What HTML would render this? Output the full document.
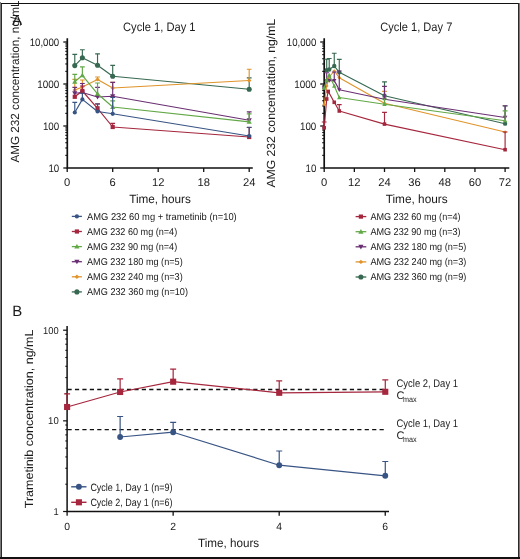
<!DOCTYPE html>
<html><head><meta charset="utf-8"><style>
html,body{margin:0;padding:0;background:#fff;width:520px;height:559px;overflow:hidden}
svg{display:block;will-change:transform;text-rendering:geometricPrecision}
</style></head><body>
<svg width="520" height="559" viewBox="0 0 520 559" font-family="Liberation Sans, sans-serif" fill="#1a1a1a">
<rect width="520" height="559" fill="#fff"/>
<text x="17.2" y="24.5" font-size="14.5" text-anchor="middle" >A</text>
<text transform="translate(19.3,162.6) rotate(-90)" font-size="11.8" textLength="162" lengthAdjust="spacingAndGlyphs">AMG 232 concentration, ng/mL</text>
<text x="159.3" y="31.2" font-size="12.2" text-anchor="middle" textLength="72.5" lengthAdjust="spacingAndGlyphs" >Cycle 1, Day 1</text>
<path d="M67.3,38.2 V168.0 H252.8" fill="none" stroke="#111" stroke-width="1.7"/>
<path d="M63.30,42.00 H67.30" stroke="#111" stroke-width="1.28"/>
<path d="M63.30,84.00 H67.30" stroke="#111" stroke-width="1.28"/>
<path d="M63.30,126.00 H67.30" stroke="#111" stroke-width="1.28"/>
<path d="M63.30,168.00 H67.30" stroke="#111" stroke-width="1.28"/>
<path d="M65.30,71.36 H67.30" stroke="#111" stroke-width="1.12"/>
<path d="M65.30,63.96 H67.30" stroke="#111" stroke-width="1.12"/>
<path d="M65.30,58.71 H67.30" stroke="#111" stroke-width="1.12"/>
<path d="M65.30,54.64 H67.30" stroke="#111" stroke-width="1.12"/>
<path d="M65.30,51.32 H67.30" stroke="#111" stroke-width="1.12"/>
<path d="M65.30,48.51 H67.30" stroke="#111" stroke-width="1.12"/>
<path d="M65.30,46.07 H67.30" stroke="#111" stroke-width="1.12"/>
<path d="M65.30,43.92 H67.30" stroke="#111" stroke-width="1.12"/>
<path d="M65.30,113.36 H67.30" stroke="#111" stroke-width="1.12"/>
<path d="M65.30,105.96 H67.30" stroke="#111" stroke-width="1.12"/>
<path d="M65.30,100.71 H67.30" stroke="#111" stroke-width="1.12"/>
<path d="M65.30,96.64 H67.30" stroke="#111" stroke-width="1.12"/>
<path d="M65.30,93.32 H67.30" stroke="#111" stroke-width="1.12"/>
<path d="M65.30,90.51 H67.30" stroke="#111" stroke-width="1.12"/>
<path d="M65.30,88.07 H67.30" stroke="#111" stroke-width="1.12"/>
<path d="M65.30,85.92 H67.30" stroke="#111" stroke-width="1.12"/>
<path d="M65.30,155.36 H67.30" stroke="#111" stroke-width="1.12"/>
<path d="M65.30,147.96 H67.30" stroke="#111" stroke-width="1.12"/>
<path d="M65.30,142.71 H67.30" stroke="#111" stroke-width="1.12"/>
<path d="M65.30,138.64 H67.30" stroke="#111" stroke-width="1.12"/>
<path d="M65.30,135.32 H67.30" stroke="#111" stroke-width="1.12"/>
<path d="M65.30,132.51 H67.30" stroke="#111" stroke-width="1.12"/>
<path d="M65.30,130.07 H67.30" stroke="#111" stroke-width="1.12"/>
<path d="M65.30,127.92 H67.30" stroke="#111" stroke-width="1.12"/>
<text x="59.2" y="45.7" font-size="10.8" text-anchor="end" textLength="29.5" lengthAdjust="spacingAndGlyphs" >10,000</text>
<text x="59.2" y="87.7" font-size="10.8" text-anchor="end" textLength="22" lengthAdjust="spacingAndGlyphs" >1000</text>
<text x="59.2" y="129.7" font-size="10.8" text-anchor="end" textLength="16.3" lengthAdjust="spacingAndGlyphs" >100</text>
<text x="59.2" y="171.7" font-size="10.8" text-anchor="end" textLength="10.8" lengthAdjust="spacingAndGlyphs" >10</text>
<path d="M67.20,168.0 V172.0" stroke="#111" stroke-width="1.3"/>
<text x="67.2" y="185.9" font-size="11.2" text-anchor="middle" >0</text>
<path d="M112.70,168.0 V172.0" stroke="#111" stroke-width="1.3"/>
<text x="112.7" y="185.9" font-size="11.2" text-anchor="middle" >6</text>
<path d="M158.20,168.0 V172.0" stroke="#111" stroke-width="1.3"/>
<text x="158.2" y="185.9" font-size="11.2" text-anchor="middle" >12</text>
<path d="M203.70,168.0 V172.0" stroke="#111" stroke-width="1.3"/>
<text x="203.7" y="185.9" font-size="11.2" text-anchor="middle" >18</text>
<path d="M249.20,168.0 V172.0" stroke="#111" stroke-width="1.3"/>
<text x="249.2" y="185.9" font-size="11.2" text-anchor="middle" >24</text>
<text x="160" y="203.1" font-size="12" text-anchor="middle" textLength="61.7" lengthAdjust="spacingAndGlyphs" >Time, hours</text>
<path d="M74.78,65.60 L82.37,57.80 L97.53,65.20 L112.70,76.30 L249.19,89.30" fill="none" stroke="#376851" stroke-width="1.15" stroke-linejoin="round"/>
<path d="M74.78,65.60 V54.40 M72.38,54.40 H77.18" stroke="#376851" stroke-width="1.15" fill="none"/>
<path d="M82.37,57.80 V49.70 M79.97,49.70 H84.77" stroke="#376851" stroke-width="1.15" fill="none"/>
<path d="M97.53,65.20 V53.90 M95.13,53.90 H99.93" stroke="#376851" stroke-width="1.15" fill="none"/>
<path d="M112.70,76.30 V65.40 M110.30,65.40 H115.10" stroke="#376851" stroke-width="1.15" fill="none"/>
<path d="M249.19,89.30 V77.90 M246.79,77.90 H251.59" stroke="#376851" stroke-width="1.15" fill="none"/>
<circle cx="74.78" cy="65.60" r="2.55" fill="#376851"/>
<circle cx="82.37" cy="57.80" r="2.55" fill="#376851"/>
<circle cx="97.53" cy="65.20" r="2.55" fill="#376851"/>
<circle cx="112.70" cy="76.30" r="2.55" fill="#376851"/>
<circle cx="249.19" cy="89.30" r="2.55" fill="#376851"/>
<path d="M74.78,90.00 L82.37,87.10 L97.53,79.40 L112.70,88.00 L249.19,80.50" fill="none" stroke="#e0942a" stroke-width="1.15" stroke-linejoin="round"/>
<path d="M74.78,90.00 V79.40 M72.38,79.40 H77.18" stroke="#e0942a" stroke-width="1.15" fill="none"/>
<path d="M82.37,87.10 V80.00 M79.97,80.00 H84.77" stroke="#e0942a" stroke-width="1.15" fill="none"/>
<path d="M97.53,79.40 V77.00 M95.13,77.00 H99.93" stroke="#e0942a" stroke-width="1.15" fill="none"/>
<path d="M112.70,88.00 V82.30 M110.30,82.30 H115.10" stroke="#e0942a" stroke-width="1.15" fill="none"/>
<path d="M249.19,80.50 V69.20 M246.79,69.20 H251.59" stroke="#e0942a" stroke-width="1.15" fill="none"/>
<path d="M74.78,87.80 L76.98,90.00 L74.78,92.20 L72.58,90.00Z" fill="#e0942a"/>
<path d="M82.37,84.90 L84.57,87.10 L82.37,89.30 L80.17,87.10Z" fill="#e0942a"/>
<path d="M97.53,77.20 L99.73,79.40 L97.53,81.60 L95.33,79.40Z" fill="#e0942a"/>
<path d="M112.70,85.80 L114.90,88.00 L112.70,90.20 L110.50,88.00Z" fill="#e0942a"/>
<path d="M249.19,78.30 L251.39,80.50 L249.19,82.70 L246.99,80.50Z" fill="#e0942a"/>
<path d="M74.78,93.30 L82.37,92.50 L97.53,97.00 L112.70,96.30 L249.19,120.30" fill="none" stroke="#6a2f72" stroke-width="1.15" stroke-linejoin="round"/>
<path d="M74.78,93.30 V87.30 M72.38,87.30 H77.18" stroke="#6a2f72" stroke-width="1.15" fill="none"/>
<path d="M82.37,92.50 V83.50 M79.97,83.50 H84.77" stroke="#6a2f72" stroke-width="1.15" fill="none"/>
<path d="M97.53,97.00 V87.30 M95.13,87.30 H99.93" stroke="#6a2f72" stroke-width="1.15" fill="none"/>
<path d="M112.70,96.30 V82.30 M110.30,82.30 H115.10" stroke="#6a2f72" stroke-width="1.15" fill="none"/>
<path d="M249.19,120.30 V111.80 M246.79,111.80 H251.59" stroke="#6a2f72" stroke-width="1.15" fill="none"/>
<path d="M74.78,95.90 L77.38,91.35 L72.18,91.35Z" fill="#6a2f72"/>
<path d="M82.37,95.10 L84.97,90.55 L79.77,90.55Z" fill="#6a2f72"/>
<path d="M97.53,99.60 L100.13,95.05 L94.93,95.05Z" fill="#6a2f72"/>
<path d="M112.70,98.90 L115.30,94.35 L110.10,94.35Z" fill="#6a2f72"/>
<path d="M249.19,122.90 L251.79,118.35 L246.59,118.35Z" fill="#6a2f72"/>
<path d="M74.78,81.70 L82.37,75.30 L97.53,93.80 L112.70,107.00 L249.19,121.90" fill="none" stroke="#62a846" stroke-width="1.15" stroke-linejoin="round"/>
<path d="M74.78,81.70 V74.30 M72.38,74.30 H77.18" stroke="#62a846" stroke-width="1.15" fill="none"/>
<path d="M82.37,75.30 V66.90 M79.97,66.90 H84.77" stroke="#62a846" stroke-width="1.15" fill="none"/>
<path d="M97.53,93.80 V83.00 M95.13,83.00 H99.93" stroke="#62a846" stroke-width="1.15" fill="none"/>
<path d="M112.70,107.00 V100.80 M110.30,100.80 H115.10" stroke="#62a846" stroke-width="1.15" fill="none"/>
<path d="M249.19,121.90 V113.80 M246.79,113.80 H251.59" stroke="#62a846" stroke-width="1.15" fill="none"/>
<path d="M74.78,79.10 L77.38,83.65 L72.18,83.65Z" fill="#62a846"/>
<path d="M82.37,72.70 L84.97,77.25 L79.77,77.25Z" fill="#62a846"/>
<path d="M97.53,91.20 L100.13,95.75 L94.93,95.75Z" fill="#62a846"/>
<path d="M112.70,104.40 L115.30,108.95 L110.10,108.95Z" fill="#62a846"/>
<path d="M249.19,119.30 L251.79,123.85 L246.59,123.85Z" fill="#62a846"/>
<path d="M74.78,96.80 L82.37,91.00 L97.53,108.30 L112.70,127.00 L249.19,137.00" fill="none" stroke="#a5263d" stroke-width="1.15" stroke-linejoin="round"/>
<path d="M82.37,91.00 V86.00 M79.97,86.00 H84.77" stroke="#a5263d" stroke-width="1.15" fill="none"/>
<path d="M97.53,108.30 V103.80 M95.13,103.80 H99.93" stroke="#a5263d" stroke-width="1.15" fill="none"/>
<path d="M112.70,127.00 V123.30 M110.30,123.30 H115.10" stroke="#a5263d" stroke-width="1.15" fill="none"/>
<path d="M249.19,137.00 V127.50 M246.79,127.50 H251.59" stroke="#a5263d" stroke-width="1.15" fill="none"/>
<rect x="72.68" y="94.70" width="4.20" height="4.20" fill="#a5263d"/>
<rect x="80.27" y="88.90" width="4.20" height="4.20" fill="#a5263d"/>
<rect x="95.43" y="106.20" width="4.20" height="4.20" fill="#a5263d"/>
<rect x="110.60" y="124.90" width="4.20" height="4.20" fill="#a5263d"/>
<rect x="247.09" y="134.90" width="4.20" height="4.20" fill="#a5263d"/>
<path d="M74.78,112.50 L82.37,99.40 L97.53,111.50 L112.70,113.80 L249.19,136.00" fill="none" stroke="#385484" stroke-width="1.15" stroke-linejoin="round"/>
<path d="M74.78,112.50 V102.40 M72.38,102.40 H77.18" stroke="#385484" stroke-width="1.15" fill="none"/>
<path d="M82.37,99.40 V93.20 M79.97,93.20 H84.77" stroke="#385484" stroke-width="1.15" fill="none"/>
<path d="M97.53,111.50 V104.00 M95.13,104.00 H99.93" stroke="#385484" stroke-width="1.15" fill="none"/>
<path d="M112.70,113.80 V97.50 M110.30,97.50 H115.10" stroke="#385484" stroke-width="1.15" fill="none"/>
<path d="M249.19,136.00 V127.20 M246.79,127.20 H251.59" stroke="#385484" stroke-width="1.15" fill="none"/>
<circle cx="74.78" cy="112.50" r="2.10" fill="#385484"/>
<circle cx="82.37" cy="99.40" r="2.10" fill="#385484"/>
<circle cx="97.53" cy="111.50" r="2.10" fill="#385484"/>
<circle cx="112.70" cy="113.80" r="2.10" fill="#385484"/>
<circle cx="249.19" cy="136.00" r="2.10" fill="#385484"/>
<path d="M71.8,216.40 H81.9" stroke="#385484" stroke-width="1.3"/>
<circle cx="76.90" cy="216.40" r="2.10" fill="#385484"/>
<text x="87" y="219.7" font-size="9.9" text-anchor="start" textLength="149.7" lengthAdjust="spacingAndGlyphs" >AMG 232 60 mg + trametinib (n=10)</text>
<path d="M71.8,231.50 H81.9" stroke="#a5263d" stroke-width="1.3"/>
<rect x="74.80" y="229.40" width="4.20" height="4.20" fill="#a5263d"/>
<text x="87" y="234.8" font-size="9.9" text-anchor="start" textLength="90.2" lengthAdjust="spacingAndGlyphs" >AMG 232 60 mg (n=4)</text>
<path d="M71.8,246.60 H81.9" stroke="#62a846" stroke-width="1.3"/>
<path d="M76.90,244.00 L79.50,248.55 L74.30,248.55Z" fill="#62a846"/>
<text x="87" y="249.9" font-size="9.9" text-anchor="start" textLength="90.2" lengthAdjust="spacingAndGlyphs" >AMG 232 90 mg (n=4)</text>
<path d="M71.8,261.70 H81.9" stroke="#6a2f72" stroke-width="1.3"/>
<path d="M76.90,264.30 L79.50,259.75 L74.30,259.75Z" fill="#6a2f72"/>
<text x="87" y="265.0" font-size="9.9" text-anchor="start" textLength="95.7" lengthAdjust="spacingAndGlyphs" >AMG 232 180 mg (n=5)</text>
<path d="M71.8,276.80 H81.9" stroke="#e0942a" stroke-width="1.3"/>
<path d="M76.90,274.60 L79.10,276.80 L76.90,279.00 L74.70,276.80Z" fill="#e0942a"/>
<text x="87" y="280.1" font-size="9.9" text-anchor="start" textLength="95.7" lengthAdjust="spacingAndGlyphs" >AMG 232 240 mg (n=3)</text>
<path d="M71.8,291.90 H81.9" stroke="#376851" stroke-width="1.3"/>
<circle cx="76.90" cy="291.90" r="2.55" fill="#376851"/>
<text x="87" y="295.2" font-size="9.9" text-anchor="start" textLength="101" lengthAdjust="spacingAndGlyphs" >AMG 232 360 mg (n=10)</text>
<text transform="translate(274.7,187.6) rotate(-90)" font-size="11.8" textLength="168.7" lengthAdjust="spacingAndGlyphs">AMG 232 concentration, ng/mL</text>
<text x="416.3" y="31.2" font-size="12.2" text-anchor="middle" textLength="72" lengthAdjust="spacingAndGlyphs" >Cycle 1, Day 7</text>
<path d="M324.2,38.2 V168.0 H509.3" fill="none" stroke="#111" stroke-width="1.7"/>
<path d="M320.20,42.00 H324.20" stroke="#111" stroke-width="1.28"/>
<path d="M320.20,84.00 H324.20" stroke="#111" stroke-width="1.28"/>
<path d="M320.20,126.00 H324.20" stroke="#111" stroke-width="1.28"/>
<path d="M320.20,168.00 H324.20" stroke="#111" stroke-width="1.28"/>
<path d="M322.20,71.36 H324.20" stroke="#111" stroke-width="1.12"/>
<path d="M322.20,63.96 H324.20" stroke="#111" stroke-width="1.12"/>
<path d="M322.20,58.71 H324.20" stroke="#111" stroke-width="1.12"/>
<path d="M322.20,54.64 H324.20" stroke="#111" stroke-width="1.12"/>
<path d="M322.20,51.32 H324.20" stroke="#111" stroke-width="1.12"/>
<path d="M322.20,48.51 H324.20" stroke="#111" stroke-width="1.12"/>
<path d="M322.20,46.07 H324.20" stroke="#111" stroke-width="1.12"/>
<path d="M322.20,43.92 H324.20" stroke="#111" stroke-width="1.12"/>
<path d="M322.20,113.36 H324.20" stroke="#111" stroke-width="1.12"/>
<path d="M322.20,105.96 H324.20" stroke="#111" stroke-width="1.12"/>
<path d="M322.20,100.71 H324.20" stroke="#111" stroke-width="1.12"/>
<path d="M322.20,96.64 H324.20" stroke="#111" stroke-width="1.12"/>
<path d="M322.20,93.32 H324.20" stroke="#111" stroke-width="1.12"/>
<path d="M322.20,90.51 H324.20" stroke="#111" stroke-width="1.12"/>
<path d="M322.20,88.07 H324.20" stroke="#111" stroke-width="1.12"/>
<path d="M322.20,85.92 H324.20" stroke="#111" stroke-width="1.12"/>
<path d="M322.20,155.36 H324.20" stroke="#111" stroke-width="1.12"/>
<path d="M322.20,147.96 H324.20" stroke="#111" stroke-width="1.12"/>
<path d="M322.20,142.71 H324.20" stroke="#111" stroke-width="1.12"/>
<path d="M322.20,138.64 H324.20" stroke="#111" stroke-width="1.12"/>
<path d="M322.20,135.32 H324.20" stroke="#111" stroke-width="1.12"/>
<path d="M322.20,132.51 H324.20" stroke="#111" stroke-width="1.12"/>
<path d="M322.20,130.07 H324.20" stroke="#111" stroke-width="1.12"/>
<path d="M322.20,127.92 H324.20" stroke="#111" stroke-width="1.12"/>
<text x="316.3" y="45.7" font-size="10.8" text-anchor="end" textLength="29.5" lengthAdjust="spacingAndGlyphs" >10,000</text>
<text x="316.3" y="87.7" font-size="10.8" text-anchor="end" textLength="22" lengthAdjust="spacingAndGlyphs" >1000</text>
<text x="316.3" y="129.7" font-size="10.8" text-anchor="end" textLength="16.3" lengthAdjust="spacingAndGlyphs" >100</text>
<text x="316.3" y="171.7" font-size="10.8" text-anchor="end" textLength="10.8" lengthAdjust="spacingAndGlyphs" >10</text>
<path d="M324.20,168.0 V172.0" stroke="#111" stroke-width="1.3"/>
<text x="324.2" y="185.9" font-size="11.2" text-anchor="middle" >0</text>
<path d="M354.35,168.0 V172.0" stroke="#111" stroke-width="1.3"/>
<text x="354.3" y="185.9" font-size="11.2" text-anchor="middle" >12</text>
<path d="M384.50,168.0 V172.0" stroke="#111" stroke-width="1.3"/>
<text x="384.5" y="185.9" font-size="11.2" text-anchor="middle" >24</text>
<path d="M414.65,168.0 V172.0" stroke="#111" stroke-width="1.3"/>
<text x="414.6" y="185.9" font-size="11.2" text-anchor="middle" >36</text>
<path d="M444.80,168.0 V172.0" stroke="#111" stroke-width="1.3"/>
<text x="444.8" y="185.9" font-size="11.2" text-anchor="middle" >48</text>
<path d="M474.95,168.0 V172.0" stroke="#111" stroke-width="1.3"/>
<text x="474.9" y="185.9" font-size="11.2" text-anchor="middle" >60</text>
<path d="M505.10,168.0 V172.0" stroke="#111" stroke-width="1.3"/>
<text x="505.1" y="185.9" font-size="11.2" text-anchor="middle" >72</text>
<text x="416.7" y="203.1" font-size="12" text-anchor="middle" textLength="62" lengthAdjust="spacingAndGlyphs" >Time, hours</text>
<path d="M326.71,70.20 L329.22,69.50 L334.25,66.00 L339.27,72.30 L384.50,95.70 L505.10,123.70" fill="none" stroke="#376851" stroke-width="1.15" stroke-linejoin="round"/>
<path d="M326.71,70.20 V59.20 M324.31,59.20 H329.11" stroke="#376851" stroke-width="1.15" fill="none"/>
<path d="M329.22,69.50 V58.50 M326.82,58.50 H331.62" stroke="#376851" stroke-width="1.15" fill="none"/>
<path d="M334.25,66.00 V53.20 M331.85,53.20 H336.65" stroke="#376851" stroke-width="1.15" fill="none"/>
<path d="M339.27,72.30 V59.30 M336.88,59.30 H341.67" stroke="#376851" stroke-width="1.15" fill="none"/>
<path d="M384.50,95.70 V81.80 M382.10,81.80 H386.90" stroke="#376851" stroke-width="1.15" fill="none"/>
<path d="M505.10,123.70 V106.00 M502.70,106.00 H507.50" stroke="#376851" stroke-width="1.15" fill="none"/>
<circle cx="326.71" cy="70.20" r="2.17" fill="#376851"/>
<circle cx="329.22" cy="69.50" r="2.17" fill="#376851"/>
<circle cx="334.25" cy="66.00" r="2.17" fill="#376851"/>
<circle cx="339.27" cy="72.30" r="2.17" fill="#376851"/>
<circle cx="384.50" cy="95.70" r="2.17" fill="#376851"/>
<circle cx="505.10" cy="123.70" r="2.17" fill="#376851"/>
<path d="M324.20,104.50 L326.71,86.00 L329.22,77.00 L334.25,71.00 L339.27,77.70 L384.50,103.20 L505.10,132.00" fill="none" stroke="#e0942a" stroke-width="1.15" stroke-linejoin="round"/>
<path d="M384.50,103.20 V91.40 M382.10,91.40 H386.90" stroke="#e0942a" stroke-width="1.15" fill="none"/>
<path d="M324.20,102.63 L326.07,104.50 L324.20,106.37 L322.33,104.50Z" fill="#e0942a"/>
<path d="M326.71,84.13 L328.58,86.00 L326.71,87.87 L324.84,86.00Z" fill="#e0942a"/>
<path d="M329.22,75.13 L331.09,77.00 L329.22,78.87 L327.35,77.00Z" fill="#e0942a"/>
<path d="M334.25,69.13 L336.12,71.00 L334.25,72.87 L332.38,71.00Z" fill="#e0942a"/>
<path d="M339.27,75.83 L341.14,77.70 L339.27,79.57 L337.40,77.70Z" fill="#e0942a"/>
<path d="M384.50,101.33 L386.37,103.20 L384.50,105.07 L382.63,103.20Z" fill="#e0942a"/>
<path d="M505.10,130.13 L506.97,132.00 L505.10,133.87 L503.23,132.00Z" fill="#e0942a"/>
<path d="M324.20,88.00 L326.71,81.00 L329.22,80.50 L334.25,80.60 L339.27,89.80 L384.50,99.30 L505.10,117.50" fill="none" stroke="#6a2f72" stroke-width="1.15" stroke-linejoin="round"/>
<path d="M326.71,81.00 V72.70 M324.31,72.70 H329.11" stroke="#6a2f72" stroke-width="1.15" fill="none"/>
<path d="M334.25,80.60 V72.00 M331.85,72.00 H336.65" stroke="#6a2f72" stroke-width="1.15" fill="none"/>
<path d="M339.27,89.80 V71.00 M336.88,71.00 H341.67" stroke="#6a2f72" stroke-width="1.15" fill="none"/>
<path d="M384.50,99.30 V86.30 M382.10,86.30 H386.90" stroke="#6a2f72" stroke-width="1.15" fill="none"/>
<path d="M505.10,117.50 V105.70 M502.70,105.70 H507.50" stroke="#6a2f72" stroke-width="1.15" fill="none"/>
<path d="M324.20,90.21 L326.41,86.34 L321.99,86.34Z" fill="#6a2f72"/>
<path d="M326.71,83.21 L328.92,79.34 L324.50,79.34Z" fill="#6a2f72"/>
<path d="M329.22,82.71 L331.43,78.84 L327.01,78.84Z" fill="#6a2f72"/>
<path d="M334.25,82.81 L336.46,78.94 L332.04,78.94Z" fill="#6a2f72"/>
<path d="M339.27,92.01 L341.48,88.14 L337.06,88.14Z" fill="#6a2f72"/>
<path d="M384.50,101.51 L386.71,97.64 L382.29,97.64Z" fill="#6a2f72"/>
<path d="M505.10,119.71 L507.31,115.84 L502.89,115.84Z" fill="#6a2f72"/>
<path d="M324.20,88.00 L326.71,80.00 L329.22,75.00 L334.25,86.00 L339.27,97.50 L384.50,104.30 L505.10,120.70" fill="none" stroke="#62a846" stroke-width="1.15" stroke-linejoin="round"/>
<path d="M384.50,104.30 V99.00 M382.10,99.00 H386.90" stroke="#62a846" stroke-width="1.15" fill="none"/>
<path d="M505.10,120.70 V110.90 M502.70,110.90 H507.50" stroke="#62a846" stroke-width="1.15" fill="none"/>
<path d="M324.20,85.79 L326.41,89.66 L321.99,89.66Z" fill="#62a846"/>
<path d="M326.71,77.79 L328.92,81.66 L324.50,81.66Z" fill="#62a846"/>
<path d="M329.22,72.79 L331.43,76.66 L327.01,76.66Z" fill="#62a846"/>
<path d="M334.25,83.79 L336.46,87.66 L332.04,87.66Z" fill="#62a846"/>
<path d="M339.27,95.29 L341.48,99.16 L337.06,99.16Z" fill="#62a846"/>
<path d="M384.50,102.09 L386.71,105.96 L382.29,105.96Z" fill="#62a846"/>
<path d="M505.10,118.49 L507.31,122.36 L502.89,122.36Z" fill="#62a846"/>
<path d="M324.20,127.80 L326.71,99.00 L328.22,91.40 L334.25,102.30 L339.27,111.00 L384.50,124.10 L505.10,149.70" fill="none" stroke="#a5263d" stroke-width="1.15" stroke-linejoin="round"/>
<path d="M324.20,127.80 V122.00 M321.80,122.00 H326.60" stroke="#a5263d" stroke-width="1.15" fill="none"/>
<path d="M339.27,111.00 V104.60 M336.88,104.60 H341.67" stroke="#a5263d" stroke-width="1.15" fill="none"/>
<path d="M384.50,124.10 V112.30 M382.10,112.30 H386.90" stroke="#a5263d" stroke-width="1.15" fill="none"/>
<path d="M505.10,149.70 V132.00 M502.70,132.00 H507.50" stroke="#a5263d" stroke-width="1.15" fill="none"/>
<rect x="322.41" y="126.02" width="3.57" height="3.57" fill="#a5263d"/>
<rect x="324.93" y="97.22" width="3.57" height="3.57" fill="#a5263d"/>
<rect x="326.43" y="89.62" width="3.57" height="3.57" fill="#a5263d"/>
<rect x="332.46" y="100.52" width="3.57" height="3.57" fill="#a5263d"/>
<rect x="337.49" y="109.22" width="3.57" height="3.57" fill="#a5263d"/>
<rect x="382.71" y="122.31" width="3.57" height="3.57" fill="#a5263d"/>
<rect x="503.31" y="147.91" width="3.57" height="3.57" fill="#a5263d"/>
<path d="M355.6,216.60 H366.3" stroke="#a5263d" stroke-width="1.3"/>
<rect x="358.80" y="214.50" width="4.20" height="4.20" fill="#a5263d"/>
<text x="370.4" y="219.9" font-size="9.9" text-anchor="start" textLength="90.2" lengthAdjust="spacingAndGlyphs" >AMG 232 60 mg (n=4)</text>
<path d="M355.6,231.70 H366.3" stroke="#62a846" stroke-width="1.3"/>
<path d="M360.90,229.10 L363.50,233.65 L358.30,233.65Z" fill="#62a846"/>
<text x="370.4" y="235.0" font-size="9.9" text-anchor="start" textLength="90.2" lengthAdjust="spacingAndGlyphs" >AMG 232 90 mg (n=3)</text>
<path d="M355.6,246.80 H366.3" stroke="#6a2f72" stroke-width="1.3"/>
<path d="M360.90,249.40 L363.50,244.85 L358.30,244.85Z" fill="#6a2f72"/>
<text x="370.4" y="250.1" font-size="9.9" text-anchor="start" textLength="95.9" lengthAdjust="spacingAndGlyphs" >AMG 232 180 mg (n=5)</text>
<path d="M355.6,261.90 H366.3" stroke="#e0942a" stroke-width="1.3"/>
<path d="M360.90,259.70 L363.10,261.90 L360.90,264.10 L358.70,261.90Z" fill="#e0942a"/>
<text x="370.4" y="265.2" font-size="9.9" text-anchor="start" textLength="95.9" lengthAdjust="spacingAndGlyphs" >AMG 232 240 mg (n=3)</text>
<path d="M355.6,277.00 H366.3" stroke="#376851" stroke-width="1.3"/>
<circle cx="360.90" cy="277.00" r="2.55" fill="#376851"/>
<text x="370.4" y="280.3" font-size="9.9" text-anchor="start" textLength="95.9" lengthAdjust="spacingAndGlyphs" >AMG 232 360 mg (n=9)</text>
<text x="17.3" y="315.9" font-size="15" text-anchor="middle" >B</text>
<text transform="translate(32.9,508.2) rotate(-90)" font-size="11.8" textLength="178.6" lengthAdjust="spacingAndGlyphs">Trametinib concentration, ng/mL</text>
<path d="M67.1,326 V511.5 H389" fill="none" stroke="#111" stroke-width="1.5"/>
<path d="M63.10,330.20 H67.10" stroke="#111" stroke-width="1.20"/>
<path d="M63.10,420.85 H67.10" stroke="#111" stroke-width="1.20"/>
<path d="M63.10,511.50 H67.10" stroke="#111" stroke-width="1.20"/>
<path d="M65.30,393.56 H67.10" stroke="#111" stroke-width="1.05"/>
<path d="M65.30,377.60 H67.10" stroke="#111" stroke-width="1.05"/>
<path d="M65.30,366.27 H67.10" stroke="#111" stroke-width="1.05"/>
<path d="M65.30,357.49 H67.10" stroke="#111" stroke-width="1.05"/>
<path d="M65.30,350.31 H67.10" stroke="#111" stroke-width="1.05"/>
<path d="M65.30,344.24 H67.10" stroke="#111" stroke-width="1.05"/>
<path d="M65.30,338.98 H67.10" stroke="#111" stroke-width="1.05"/>
<path d="M65.30,334.35 H67.10" stroke="#111" stroke-width="1.05"/>
<path d="M65.30,484.21 H67.10" stroke="#111" stroke-width="1.05"/>
<path d="M65.30,468.25 H67.10" stroke="#111" stroke-width="1.05"/>
<path d="M65.30,456.92 H67.10" stroke="#111" stroke-width="1.05"/>
<path d="M65.30,448.14 H67.10" stroke="#111" stroke-width="1.05"/>
<path d="M65.30,440.96 H67.10" stroke="#111" stroke-width="1.05"/>
<path d="M65.30,434.89 H67.10" stroke="#111" stroke-width="1.05"/>
<path d="M65.30,429.63 H67.10" stroke="#111" stroke-width="1.05"/>
<path d="M65.30,425.00 H67.10" stroke="#111" stroke-width="1.05"/>
<text x="58.7" y="333.7" font-size="10" text-anchor="end" textLength="15.6" lengthAdjust="spacingAndGlyphs" >100</text>
<text x="58.7" y="424.4" font-size="10" text-anchor="end" textLength="10.6" lengthAdjust="spacingAndGlyphs" >10</text>
<text x="58.7" y="515.0" font-size="10" text-anchor="end" textLength="5.2" lengthAdjust="spacingAndGlyphs" >1</text>
<path d="M67.10,511.5 V515.8" stroke="#111" stroke-width="1.3"/>
<text x="67.1" y="529.6" font-size="10.4" text-anchor="middle" >0</text>
<path d="M173.15,511.5 V515.8" stroke="#111" stroke-width="1.3"/>
<text x="173.1" y="529.6" font-size="10.4" text-anchor="middle" >2</text>
<path d="M279.20,511.5 V515.8" stroke="#111" stroke-width="1.3"/>
<text x="279.2" y="529.6" font-size="10.4" text-anchor="middle" >4</text>
<path d="M385.25,511.5 V515.8" stroke="#111" stroke-width="1.3"/>
<text x="385.2" y="529.6" font-size="10.4" text-anchor="middle" >6</text>
<text x="228.6" y="547.1" font-size="12" text-anchor="middle" textLength="61.2" lengthAdjust="spacingAndGlyphs" >Time, hours</text>
<path d="M67.5,389.5 H384.5" stroke="#111" stroke-width="1.4" stroke-dasharray="4.2,3.23"/>
<path d="M67.5,429.6 H384.5" stroke="#111" stroke-width="1.4" stroke-dasharray="4.2,3.23"/>
<path d="M120.13,437.00 L173.16,432.20 L279.22,465.20 L385.28,475.80" fill="none" stroke="#385484" stroke-width="1.2" stroke-linejoin="round"/>
<path d="M120.13,437.00 V416.50 M117.13,416.50 H123.13" stroke="#385484" stroke-width="1.2" fill="none"/>
<path d="M173.16,432.20 V422.40 M170.16,422.40 H176.16" stroke="#385484" stroke-width="1.2" fill="none"/>
<path d="M279.22,465.20 V451.00 M276.22,451.00 H282.22" stroke="#385484" stroke-width="1.2" fill="none"/>
<path d="M385.28,475.80 V461.50 M382.28,461.50 H388.28" stroke="#385484" stroke-width="1.2" fill="none"/>
<circle cx="120.13" cy="437.00" r="2.93" fill="#385484"/>
<circle cx="173.16" cy="432.20" r="2.93" fill="#385484"/>
<circle cx="279.22" cy="465.20" r="2.93" fill="#385484"/>
<circle cx="385.28" cy="475.80" r="2.93" fill="#385484"/>
<path d="M67.10,407.00 L120.13,392.00 L173.16,381.70 L279.22,392.80 L385.28,391.80" fill="none" stroke="#a5263d" stroke-width="1.2" stroke-linejoin="round"/>
<path d="M67.10,407.00 V393.80 M64.10,393.80 H70.10" stroke="#a5263d" stroke-width="1.2" fill="none"/>
<path d="M120.13,392.00 V378.80 M117.13,378.80 H123.13" stroke="#a5263d" stroke-width="1.2" fill="none"/>
<path d="M173.16,381.70 V369.20 M170.16,369.20 H176.16" stroke="#a5263d" stroke-width="1.2" fill="none"/>
<path d="M279.22,392.80 V380.80 M276.22,380.80 H282.22" stroke="#a5263d" stroke-width="1.2" fill="none"/>
<path d="M385.28,391.80 V379.80 M382.28,379.80 H388.28" stroke="#a5263d" stroke-width="1.2" fill="none"/>
<rect x="64.05" y="403.95" width="6.09" height="6.09" fill="#a5263d"/>
<rect x="117.08" y="388.95" width="6.09" height="6.09" fill="#a5263d"/>
<rect x="170.12" y="378.65" width="6.09" height="6.09" fill="#a5263d"/>
<rect x="276.18" y="389.75" width="6.09" height="6.09" fill="#a5263d"/>
<rect x="382.23" y="388.75" width="6.09" height="6.09" fill="#a5263d"/>
<text x="396.5" y="387.3" font-size="11" text-anchor="start" textLength="61.5" lengthAdjust="spacingAndGlyphs" >Cycle 2, Day 1</text>
<text x="396.5" y="399.3" font-size="11" text-anchor="start" >C</text>
<text x="403" y="402.3" font-size="8" text-anchor="start" textLength="13.6" lengthAdjust="spacingAndGlyphs" >max</text>
<text x="396.5" y="426.6" font-size="11" text-anchor="start" textLength="61.5" lengthAdjust="spacingAndGlyphs" >Cycle 1, Day 1</text>
<text x="396.5" y="438.5" font-size="11" text-anchor="start" >C</text>
<text x="403" y="441.5" font-size="8" text-anchor="start" textLength="13.6" lengthAdjust="spacingAndGlyphs" >max</text>
<path d="M71.2,486.80 H86.5" stroke="#385484" stroke-width="1.4"/>
<circle cx="78.90" cy="486.80" r="2.93" fill="#385484"/>
<text x="90.4" y="490.7" font-size="10.6" text-anchor="start" textLength="82" lengthAdjust="spacingAndGlyphs" >Cycle 1, Day 1 (n=9)</text>
<path d="M71.2,502.30 H86.5" stroke="#a5263d" stroke-width="1.4"/>
<rect x="75.86" y="499.25" width="6.09" height="6.09" fill="#a5263d"/>
<text x="90.4" y="506.2" font-size="10.6" text-anchor="start" textLength="82" lengthAdjust="spacingAndGlyphs" >Cycle 2, Day 1 (n=6)</text>
<rect x="0" y="2" width="1" height="557" fill="#7a7a7a"/>
<rect x="1" y="3" width="1" height="556" fill="#2a2a2a"/>
<rect x="1" y="3" width="519" height="1" fill="#111"/>
<rect x="518" y="3" width="1" height="556" fill="#2a2a2a"/>
<rect x="519" y="3" width="1" height="556" fill="#7a7a7a"/>
<rect x="0" y="557" width="520" height="2" fill="#111"/>
</svg>
</body></html>
